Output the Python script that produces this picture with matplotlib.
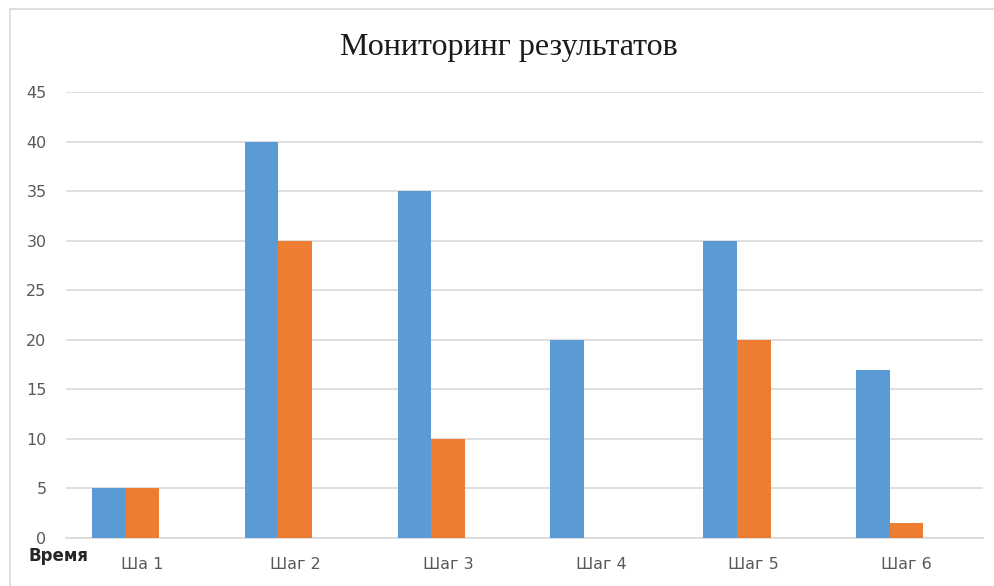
import matplotlib
matplotlib.use("Agg")
import matplotlib.pyplot as plt
from matplotlib.lines import Line2D
import numpy as np

categories = ["Ша 1", "Шаг 2", "Шаг 3", "Шаг 4", "Шаг 5", "Шаг 6"]
series_blue = [5, 40, 35, 20, 30, 17]
series_orange = [5, 30, 10, 0, 20, 1.5]
series_third = [0, 0, 0, 0, 0, 0]
yticks = [0, 5, 10, 15, 20, 25, 30, 35, 40, 45]
title = "Мониторинг результатов"
xlabel_text = "Время"

W, H = 994, 586
fig = plt.figure(figsize=(W / 100, H / 100), dpi=100)
fig.patch.set_facecolor("white")

# plot area in pixels
left, right, top, bottom = 66, 983, 92, 538
ax = fig.add_axes([left / W, 1 - bottom / H, (right - left) / W, (bottom - top) / H])

x = np.arange(len(categories))
w = 0.22
ax.bar(x - w, series_blue, w, color="#5B9BD5", zorder=3)
ax.bar(x, series_orange, w, color="#ED7D31", zorder=3)
ax.bar(x + w, series_third, w, color="#A5A5A5", zorder=3)

ax.set_xlim(-0.5, len(categories) - 0.5)
ax.set_ylim(0, 45)
ax.set_yticks(yticks)
ax.set_yticklabels([str(v) for v in yticks])
ax.yaxis.grid(True, color="#D9D9D9", linewidth=1.2, zorder=0)
ax.set_axisbelow(True)
for s in ["top", "right", "left"]:
    ax.spines[s].set_visible(False)
ax.spines["bottom"].set_color("#D9D9D9")
ax.spines["bottom"].set_linewidth(1.2)
ax.tick_params(axis="both", length=0)
ax.tick_params(axis="y", pad=14, labelsize=11.5, labelcolor="#595959")
ax.set_xticks(x)
ax.set_xticklabels(categories, fontsize=11.5, color="#595959")
ax.tick_params(axis="x", pad=14)
ax.set_facecolor("white")

fig.text(509 / W, 1 - 47 / H, title, fontsize=23, family="Liberation Serif",
         color="#1a1a1a", va="center", ha="center")

fig.text(28 / W, 1 - 556 / H, xlabel_text, fontsize=12, fontweight="bold",
         color="#262626", va="center", ha="left")

# chart frame
fig.add_artist(Line2D([10 / W, 993 / W], [1 - 9 / H, 1 - 9 / H], color="#D9D9D9", linewidth=1.2))
fig.add_artist(Line2D([10 / W, 10 / W], [1 - 9 / H, 0], color="#D9D9D9", linewidth=1.2))

fig.savefig("out.png", dpi=100, facecolor="white")
